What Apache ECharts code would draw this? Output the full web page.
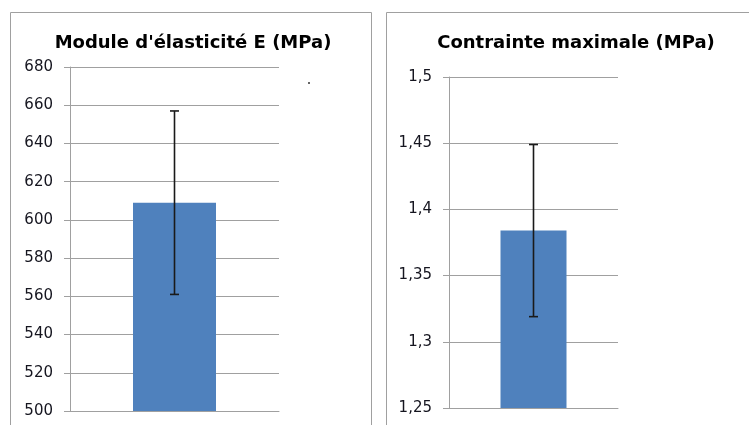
<!DOCTYPE html>
<html><head><meta charset="utf-8">
<script src="https://cdn.jsdelivr.net/npm/echarts@6/dist/echarts.min.js"></script>
<style>html,body{margin:0;padding:0;background:#fff}#c{width:749px;height:425px}</style>
</head><body><div id="c"></div>
<script>
// Data
const categories = [""];
const titles = ["Module d'élasticité E (MPa)", "Contrainte maximale (MPa)"];
const moduleValues = [609];
const moduleErrors = [48];
const stressValues = [1.384];
const stressErrors = [0.065];
const moduleTicks = { min: 500, max: 680, interval: 20 };
const stressTicks = { min: 1.25, max: 1.5, interval: 0.05 };

const chart = echarts.init(document.getElementById('c'));
const FONT = 'DejaVu Sans';
const gridColor = '#a0a0a0';

function errRender(params, api) {
  const x = api.value(0), v = api.value(1), e = api.value(2);
  const top = api.coord([x, v + e]);
  const bot = api.coord([x, v - e]);
  const hw = 4.5;
  const st = { stroke: '#1a1a1a', lineWidth: 1.6 };
  return { type: 'group', children: [
    { type: 'line', shape: { x1: top[0], y1: top[1], x2: bot[0], y2: bot[1] }, style: st },
    { type: 'line', shape: { x1: top[0] - hw, y1: top[1], x2: top[0] + hw, y2: top[1] }, style: st },
    { type: 'line', shape: { x1: bot[0] - hw, y1: bot[1], x2: bot[0] + hw, y2: bot[1] }, style: st }
  ]};
}

function yAxis(idx, t, fmt) {
  return {
    type: 'value', gridIndex: idx, min: t.min, max: t.max, interval: t.interval,
    axisLine: { show: true, lineStyle: { color: gridColor, width: 1 } },
    axisTick: { show: true, length: 6, lineStyle: { color: gridColor } },
    splitLine: { show: true, lineStyle: { color: gridColor, width: 1 } },
    axisLabel: { margin: 17, color: '#15151f', fontFamily: FONT, fontSize: 15, formatter: fmt }
  };
}
function xAxis(idx) {
  return {
    type: 'category', gridIndex: idx, data: categories,
    axisLine: { show: true, lineStyle: { color: gridColor } },
    axisTick: { show: false }, axisLabel: { show: false }
  };
}

chart.setOption({
  animation: false,
  title: [
    { text: titles[0], left: 188, top: 29, textAlign: 'center',
      textStyle: { fontFamily: FONT, fontWeight: 'bold', fontSize: 18, color: '#000' } },
    { text: titles[1], left: 571, top: 29, textAlign: 'center',
      textStyle: { fontFamily: FONT, fontWeight: 'bold', fontSize: 18, color: '#000' } }
  ],
  grid: [
    { left: 70, right: 470, top: 67, bottom: 14 },
    { left: 449, right: 131, top: 77, bottom: 17 }
  ],
  xAxis: [xAxis(0), xAxis(1)],
  yAxis: [
    yAxis(0, moduleTicks, v => String(v)),
    yAxis(1, stressTicks, v => String(+(+v).toFixed(2)).replace('.', ','))
  ],
  series: [
    { type: 'bar', xAxisIndex: 0, yAxisIndex: 0, data: moduleValues, barWidth: 83,
      itemStyle: { color: '#4f81bd' } },
    { type: 'bar', xAxisIndex: 1, yAxisIndex: 1, data: stressValues, barWidth: 66,
      itemStyle: { color: '#4f81bd' } },
    { type: 'custom', xAxisIndex: 0, yAxisIndex: 0, renderItem: errRender, z: 10,
      data: categories.map((c, i) => [i, moduleValues[i], moduleErrors[i]]) },
    { type: 'custom', xAxisIndex: 1, yAxisIndex: 1, renderItem: errRender, z: 10,
      data: categories.map((c, i) => [i, stressValues[i], stressErrors[i]]) }
  ],
  graphic: [
    { type: 'rect', shape: { x: 10.5, y: 12.5, width: 361, height: 430 },
      style: { fill: 'none', stroke: '#a0a0a0', lineWidth: 1 }, z: -1 },
    { type: 'rect', shape: { x: 386.5, y: 12.5, width: 400, height: 430 },
      style: { fill: 'none', stroke: '#a0a0a0', lineWidth: 1 }, z: -1 },
    { type: 'circle', shape: { cx: 309, cy: 83, r: 1 }, style: { fill: '#333' } }
  ]
});
</script></body></html>
